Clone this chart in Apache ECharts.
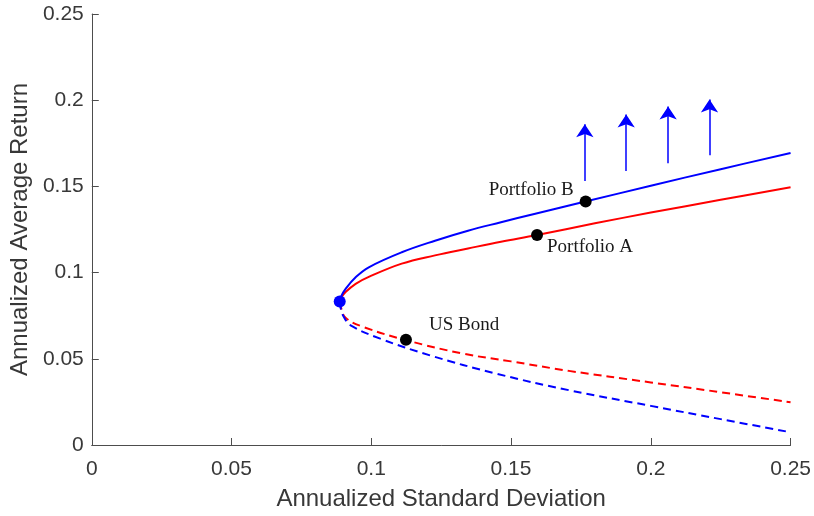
<!DOCTYPE html>
<html>
<head>
<meta charset="utf-8">
<script src="https://cdn.jsdelivr.net/npm/echarts@6/dist/echarts.min.js"></script>
<style>html,body{margin:0;padding:0;background:#fff;}#c{width:814px;height:516px;}</style>
</head>
<body>
<div id="c"></div>
<script>
// Frontier curves, [std dev, return]
const blueUpper = [[0.0887,0.0832],[0.0892,0.0862],[0.0908,0.0906],[0.0944,0.0973],[0.0991,0.1031],[0.1109,0.1118],[0.1228,0.1185],[0.1346,0.1243],[0.1464,0.1292],[0.1583,0.1340],[0.1766,0.1412],[0.2000,0.1504],[0.2250,0.1600],[0.2500,0.1694]];
const redUpper = [[0.0887,0.0832],[0.0893,0.0856],[0.0908,0.0887],[0.0944,0.0935],[0.0991,0.0975],[0.1109,0.1052],[0.1228,0.1100],[0.1346,0.1140],[0.1464,0.1179],[0.1593,0.1218],[0.1800,0.1286],[0.2000,0.1348],[0.2250,0.1422],[0.2500,0.1495]];
const redLower = [[0.0887,0.0832],[0.0892,0.0795],[0.0908,0.0738],[0.0973,0.0684],[0.1127,0.0607],[0.1328,0.0530],[0.1500,0.0485],[0.1707,0.0430],[0.2000,0.0363],[0.2250,0.0306],[0.2500,0.0248]];
const blueLower = [[0.0887,0.0832],[0.0891,0.0790],[0.0902,0.0742],[0.0926,0.0694],[0.1032,0.0617],[0.1210,0.0520],[0.1447,0.0414],[0.1707,0.0318],[0.2000,0.0227],[0.2250,0.0150],[0.2500,0.0074]];
// Labelled portfolios
const pointNames = ['Portfolio B','Portfolio A','US Bond'];
const pointXY = [[0.1767,0.1412],[0.1593,0.1218],[0.1124,0.0611]];
const minVar = [0.0887,0.0832];
// Arrows: [x, yStart, yTip]
const arrows = [[0.1764,0.1532,0.1860],[0.1912,0.1590,0.1917],[0.2062,0.1634,0.1964],[0.2210,0.1680,0.2004]];
const ticksX = [0,0.05,0.1,0.15,0.2,0.25];

const fmt = v => String(+v.toFixed(2));
const labelCfg = [
  {position:'left', distance:6, offset:[0,-12]},
  {position:'right', distance:4, offset:[0,12]},
  {position:'right', distance:17, offset:[0,-15]}
];
const chart = echarts.init(document.getElementById('c'));
const axisCommon = {
  type:'value', min:0, max:0.25, interval:0.05,
  axisLine:{show:true, lineStyle:{color:'#4d4d4d', width:1}},
  axisTick:{show:true, inside:true, length:7, lineStyle:{color:'#4d4d4d'}},
  splitLine:{show:false},
  axisLabel:{color:'#383838', fontFamily:'Liberation Sans, Arial', fontSize:21, formatter:fmt},
  nameLocation:'middle',
  nameTextStyle:{color:'#383838', fontFamily:'Liberation Sans, Arial', fontSize:24}
};
const lineStyleOf = (c, dashed) => ({color:c, width:2, type: dashed ? [8,5] : 'solid'});
chart.setOption({
  animation:false,
  backgroundColor:'#fff',
  grid:{left:89, right:21, top:14, bottom:69, containLabel:false},
  xAxis:Object.assign({}, axisCommon, {name:'Annualized Standard Deviation', nameGap:42,
    axisLabel:Object.assign({}, axisCommon.axisLabel, {margin:14})}),
  yAxis:Object.assign({}, axisCommon, {name:'Annualized Average Return', nameGap:51,
    axisLabel:Object.assign({}, axisCommon.axisLabel, {margin:8})}),
  series:[
    {type:'line', data:blueUpper, showSymbol:false, smooth:0.4, lineStyle:lineStyleOf('#0000ff',false), z:3},
    {type:'line', data:redUpper, showSymbol:false, smooth:0.4, lineStyle:lineStyleOf('#ff0000',false), z:2},
    {type:'line', data:redLower, showSymbol:false, smooth:0.4, lineStyle:lineStyleOf('#ff0000',true), z:2},
    {type:'line', data:blueLower, showSymbol:false, smooth:0.4, lineStyle:lineStyleOf('#0000ff',true), z:2},
    {type:'scatter', symbolSize:12, itemStyle:{color:'#000', opacity:1}, z:5,
      data:pointXY.map((p,i)=>({value:p, name:pointNames[i],
        label:Object.assign({show:true, formatter:pointNames[i], color:'#1a1a1a',
          fontFamily:'Liberation Serif, Times New Roman, serif', fontSize:19}, labelCfg[i])}))},
    {type:'scatter', symbolSize:12, itemStyle:{color:'#0000ff', opacity:1}, z:6, data:[minVar]},
    {type:'lines', coordinateSystem:'cartesian2d', z:4,
      symbol:['none','arrow'], symbolSize:[11,13],
      lineStyle:{color:'#0000ff', width:1.5, opacity:1},
      data:arrows.map(a=>({coords:[[a[0],a[1]],[a[0],a[2]]]}))}
  ]
});
</script>
</body>
</html>
